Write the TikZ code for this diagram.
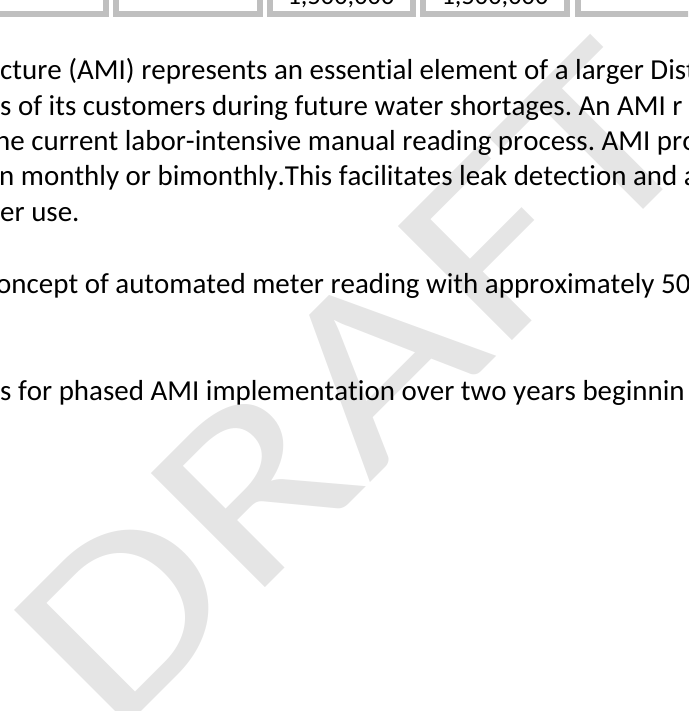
\documentclass[tikz,border=0pt]{standalone}
\usepackage{fontspec}
\setmainfont{Carlito}[Ligatures=NoCommon, Kerning=Off]
\definecolor{cellgray}{RGB}{191,191,191}
\frenchspacing
\begin{document}
\begin{tikzpicture}[x=1pt, y=1pt,
    cell/.style={draw=cellgray, line width=5.6pt},
    body/.style={anchor=base west, inner sep=0pt, font=\fontsize{28.95}{35.5}\selectfont},
    num/.style={anchor=base, inner sep=0pt, font=\fontsize{26.4}{32}\selectfont}]
\useasboundingbox (0,0) rectangle (688,-711);
\clip (0,0) rectangle (688,-711);
% Draw the table cells
\foreach \a/\b in {-60/108.5, 113/262.5, 267/415.5, 420/570, 575/760}
  \draw[cell] (\a+2.8, 20) rectangle (\b-2.8, -13.9);
\node[num] (n1) at (341,-5) {1,500,000};
\node[num] (n2) at (495,-5) {1,500,000};
% Draw the text lines
\node[body] (l1) at (0,-80) {cture (AMI) represents an essential element of a larger Dist};
\node[body] (l2) at (0,-115.3) {s of its customers during future water shortages. An AMI r};
\node[body] (l3) at (-5,-150.6) {he current labor-intensive manual reading process. AMI pro};
\node[body] (l4) at (-1,-185.9) {n monthly or bimonthly.This facilitates leak detection and a};
\node[body] (l5) at (0,-221.2) {er use.};
\node[body] (l6) at (-4,-293.3) {oncept of automated meter reading with approximately 50};
\node[body] (l7) at (0,-400.5) {s for phased AMI implementation over two years beginnin};
% Draw the watermark
\begin{scope}[shift={(113.6,-739.4)}, rotate=45, xscale=1.09, yscale=0.876, transform shape]
  \node[anchor=base west, inner sep=0pt, text=black, text opacity=0.1,
        font=\fontsize{287}{300}\selectfont] (wm) at (0,0) {DRAFT};
\end{scope}
\end{tikzpicture}
\end{document}
